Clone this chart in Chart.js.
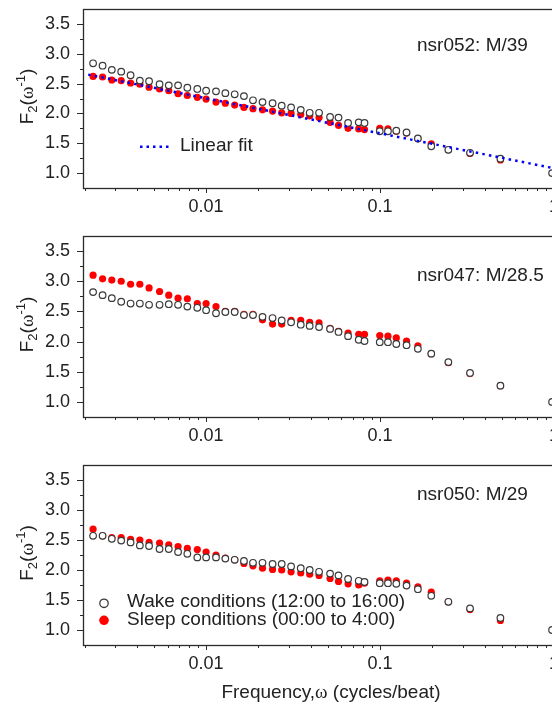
<!DOCTYPE html>
<html>
<head>
<meta charset="utf-8">
<script src="https://cdn.jsdelivr.net/npm/chart.js@4.4.1/dist/chart.umd.min.js"></script>
<style>
  html, body { margin: 0; padding: 0; background: #fff; overflow: hidden; width: 552px; height: 704px; }
  canvas { position: absolute; left: 0; }
</style>
</head>
<body>
<canvas id="c1" width="580" height="228" style="top:0px"></canvas>
<canvas id="c2" width="580" height="230" style="top:227px"></canvas>
<canvas id="c3" width="580" height="248" style="top:456px"></canvas>
<script>
// Frequency grid, cycles/beat (shared by all three recordings)
const frequency = [
  0.00224, 0.00254, 0.00287, 0.00325, 0.00368, 0.00416, 0.0047, 0.0054, 0.0061, 0.0069,
  0.0078, 0.0089, 0.0100, 0.0114, 0.0129, 0.0146, 0.0165, 0.0186, 0.0211, 0.0241,
  0.0272, 0.0308, 0.0350, 0.0394, 0.0446, 0.0516, 0.0577, 0.0655, 0.0754, 0.0814,
  0.0996, 0.111, 0.124, 0.142, 0.165, 0.197, 0.247, 0.329, 0.492, 0.975
];

// nsr052: M/39
const wake052 = [
  2.84, 2.80, 2.73, 2.70, 2.64, 2.55, 2.54, 2.49, 2.47, 2.47,
  2.43, 2.41, 2.38, 2.37, 2.34, 2.32, 2.29, 2.22, 2.19, 2.17,
  2.13, 2.10, 2.06, 2.01, 2.01, 1.94, 1.93, 1.84, 1.85, 1.84,
  1.70, 1.70, 1.71, 1.68, 1.58, 1.45, 1.39, 1.34, 1.24, 1.00
];
const sleep052 = [
  2.62, 2.61, 2.56, 2.55, 2.51, 2.49, 2.44, 2.41, 2.38, 2.33,
  2.30, 2.27, 2.24, 2.19, 2.17, 2.14, 2.10, 2.08, 2.06, 2.04,
  2.01, 2.00, 1.98, 1.96, 1.93, 1.85, 1.80, 1.75, 1.74, 1.73,
  1.75, 1.74, 1.70, 1.67, 1.58, 1.49, 1.39, 1.33, 1.22, null
];
// Linear fit of F2 against log10(frequency)
const fitFrequency = [0.0021, 1.0];
const fit052 = [2.65, 1.08];

// nsr047: M/28.5
const wake047 = [
  2.82, 2.77, 2.72, 2.66, 2.63, 2.63, 2.61, 2.61, 2.62, 2.61,
  2.58, 2.56, 2.52, 2.47, 2.49, 2.49, 2.44, 2.44, 2.41, 2.39,
  2.35, 2.32, 2.28, 2.26, 2.24, 2.21, 2.16, 2.09, 2.03, 2.01,
  1.99, 1.99, 1.96, 1.94, 1.88, 1.80, 1.66, 1.48, 1.27, 1.00
];
const sleep047 = [
  3.10, 3.04, 3.02, 3.00, 2.95, 2.95, 2.89, 2.83, 2.77, 2.72,
  2.71, 2.63, 2.63, 2.58, 2.50, 2.50, 2.45, 2.45, 2.36, 2.29,
  2.29, 2.35, 2.35, 2.32, 2.31, 2.22, 2.17, 2.14, 2.12, 2.12,
  2.10, 2.09, 2.06, 2.01, 1.93, 1.80, 1.65, 1.47, 1.27, null
];

// nsr050: M/29
const wake050 = [
  2.57, 2.57, 2.52, 2.49, 2.46, 2.41, 2.40, 2.35, 2.35, 2.30,
  2.27, 2.21, 2.21, 2.21, 2.19, 2.17, 2.15, 2.12, 2.12, 2.10,
  2.10, 2.06, 2.03, 2.00, 1.97, 1.94, 1.91, 1.85, 1.82, 1.80,
  1.78, 1.78, 1.77, 1.74, 1.68, 1.57, 1.47, 1.36, 1.20, 1.00
];
const sleep050 = [
  2.68, 2.57, 2.54, 2.54, 2.51, 2.50, 2.46, 2.45, 2.42, 2.39,
  2.36, 2.34, 2.30, 2.25, 2.20, 2.17, 2.11, 2.07, 2.03, 2.01,
  2.00, 1.97, 1.95, 1.93, 1.91, 1.86, 1.81, 1.77, 1.75, 1.78,
  1.82, 1.83, 1.82, 1.78, 1.72, 1.63, 1.47, 1.34, 1.16, null
];

// Axis tick labels
const xTickValues = [0.01, 0.1, 1];
const xTickLabels = ['0.01', '0.1', '1'];
const yTickValues = [1.0, 1.5, 2.0, 2.5, 3.0, 3.5];

const legendLabels = ['Wake conditions (12:00 to 16:00)', 'Sleep conditions (00:00 to 4:00)'];
const fitLabel = 'Linear fit';

const SANS = "'Liberation Sans', Arial, sans-serif";
const SERIF = "'Liberation Serif', 'DejaVu Serif', serif";
const INK = '#222';
const WAKE_COLOR = '#3a3a3a';
const SLEEP_COLOR = '#ff0000';
const FIT_COLOR = '#0000ff';

const panels = [
  { id: 'c1', title: 'nsr052: M/39',   titleDy: 37, wake: wake052, sleep: sleep052, fit: fit052, legend: 'fit',    axisH: 40, xTitle: false },
  { id: 'c2', title: 'nsr047: M/28.5', titleDy: 40, wake: wake047, sleep: sleep047, fit: null,   legend: null,     axisH: 40, xTitle: false },
  { id: 'c3', title: 'nsr050: M/29',   titleDy: 30, wake: wake050, sleep: sleep050, fit: null,   legend: 'points', axisH: 59, xTitle: true }
];

function toPoints(xs, ys) {
  const pts = [];
  xs.forEach((x, i) => { if (ys[i] !== null && ys[i] !== undefined) pts.push({ x: x, y: ys[i] }); });
  return pts;
}

function drawParts(ctx, parts, x0, y0, align) {
  let total = 0;
  parts.forEach(p => { ctx.font = p.f; p.w = ctx.measureText(p.t).width; total += p.w; });
  let x = align === 'center' ? x0 - total / 2 : x0;
  parts.forEach(p => {
    ctx.font = p.f;
    ctx.fillText(p.t, x, y0 + (p.dy || 0));
    x += p.w;
  });
}

const decorations = {
  id: 'decorations',
  afterDraw(chart, args, opts) {
    const ctx = chart.ctx;
    const a = chart.chartArea;
    const xs = chart.scales.x, ys = chart.scales.y;
    ctx.save();

    // frame
    ctx.strokeStyle = '#2a2a2a';
    ctx.lineWidth = 1.3;
    ctx.strokeRect(Math.round(a.left) + 0.5, Math.round(a.top) + 0.5,
                   Math.round(a.right - a.left), Math.round(a.bottom - a.top));

    // tick marks: decades long, intermediate short
    ctx.lineWidth = 1;
    ctx.beginPath();
    for (let e = -3; e <= 0; e++) {
      for (let k = 1; k <= 9; k++) {
        const v = k * Math.pow(10, e);
        if (v < xs.min || v > xs.max) continue;
        const px = Math.round(xs.getPixelForValue(v)) + 0.5;
        const len = k === 1 ? 5 : 3;
        ctx.moveTo(px, a.bottom);
        ctx.lineTo(px, a.bottom + len);
      }
    }
    for (let q = 4; q <= 14; q++) {
      const v = q / 4;
      const py = Math.round(ys.getPixelForValue(v)) + 0.5;
      const len = (q % 2 === 0) ? 6 : 3;
      ctx.moveTo(a.left, py);
      ctx.lineTo(a.left - len, py);
    }
    ctx.stroke();

    ctx.fillStyle = INK;
    ctx.textBaseline = 'middle';
    ctx.textAlign = 'left';

    // recording label
    ctx.font = `19px ${SANS}`;
    ctx.fillText(opts.title, 417, a.top + opts.titleDy);

    // y-axis title F2(ω^-1)
    ctx.save();
    ctx.translate(33, (a.top + a.bottom) / 2 - 2);
    ctx.rotate(-Math.PI / 2);
    ctx.textBaseline = 'alphabetic';
    drawParts(ctx, [
      { t: 'F', f: `19px ${SANS}` },
      { t: '2', f: `13px ${SANS}`, dy: 4 },
      { t: '(', f: `19px ${SANS}` },
      { t: 'ω', f: `19px ${SERIF}` },
      { t: '-1', f: `13px ${SANS}`, dy: -8 },
      { t: ')', f: `19px ${SANS}` }
    ], 0, 0, 'center');
    ctx.restore();

    // in-panel legends
    if (opts.legend === 'fit') {
      const ly = a.top + 137.7;
      ctx.save();
      ctx.strokeStyle = FIT_COLOR;
      ctx.lineWidth = 2.5;
      ctx.setLineDash([2.5, 4]);
      ctx.beginPath();
      ctx.moveTo(140, ly);
      ctx.lineTo(172, ly);
      ctx.stroke();
      ctx.restore();
      ctx.font = `19px ${SANS}`;
      ctx.fillText(fitLabel, 180, ly - 1);
    }
    if (opts.legend === 'points') {
      const y1 = a.top + 138.3, y2 = a.top + 155.3;
      ctx.save();
      ctx.lineWidth = 1.3;
      ctx.strokeStyle = WAKE_COLOR;
      ctx.fillStyle = '#fff';
      ctx.beginPath(); ctx.arc(104, y1, 4.2, 0, Math.PI * 2); ctx.fill(); ctx.stroke();
      ctx.fillStyle = SLEEP_COLOR;
      ctx.beginPath(); ctx.arc(104, y2, 4.8, 0, Math.PI * 2); ctx.fill();
      ctx.restore();
      ctx.font = `19px ${SANS}`;
      ctx.fillText(legendLabels[0], 127, y1 - 1.5);
      ctx.fillText(legendLabels[1], 127, y2 - 0.5);
    }

    // x-axis title
    if (opts.xTitle) {
      ctx.textBaseline = 'middle';
      drawParts(ctx, [
        { t: 'Frequency,', f: `19px ${SANS}` },
        { t: 'ω', f: `19px ${SERIF}` },
        { t: ' (cycles/beat)', f: `19px ${SANS}` }
      ], 331, a.bottom + 48, 'center');
    }
    ctx.restore();
  }
};

panels.forEach(p => {
  const datasets = [
    {
      label: legendLabels[0],
      data: toPoints(frequency, p.wake),
      pointRadius: 3.3,
      pointBorderWidth: 1.2,
      pointBorderColor: WAKE_COLOR,
      pointBackgroundColor: '#ffffff',
      showLine: false,
      order: 1
    },
    {
      label: legendLabels[1],
      data: toPoints(frequency, p.sleep),
      pointRadius: 3.6,
      pointBorderWidth: 0,
      pointBorderColor: SLEEP_COLOR,
      pointBackgroundColor: SLEEP_COLOR,
      showLine: false,
      order: 2
    }
  ];
  if (p.fit) {
    datasets.push({
      label: fitLabel,
      data: toPoints(fitFrequency, p.fit),
      showLine: true,
      pointRadius: 0,
      borderColor: FIT_COLOR,
      borderWidth: 2.5,
      borderDash: [2.5, 4.2],
      order: 0
    });
  }

  new Chart(document.getElementById(p.id), {
    type: 'scatter',
    data: { datasets },
    options: {
      responsive: false,
      animation: false,
      devicePixelRatio: 1,
      layout: { padding: { top: 9, right: 26, left: 0, bottom: 0 } },
      plugins: {
        legend: { display: false },
        tooltip: { enabled: false },
        decorations: p
      },
      scales: {
        x: {
          type: 'logarithmic',
          min: 0.00196,
          max: 1,
          grid: { display: false, drawTicks: false },
          border: { display: false },
          ticks: {
            autoSkip: false,
            maxRotation: 0,
            padding: 8,
            color: INK,
            font: { family: SANS, size: 18 },
            callback: (v) => {
              const i = xTickValues.findIndex(t => Math.abs(Math.log10(v) - Math.log10(t)) < 1e-6);
              return i >= 0 ? xTickLabels[i] : '';
            }
          },
          afterFit: (s) => { s.height = p.axisH; s.paddingLeft = 0; s.paddingRight = 0; }
        },
        y: {
          type: 'linear',
          min: 0.75,
          max: 3.75,
          grid: { display: false, drawTicks: false },
          border: { display: false },
          ticks: {
            autoSkip: false,
            stepSize: 0.25,
            padding: 13,
            color: INK,
            font: { family: SANS, size: 18 },
            callback: (v) => {
              const hit = yTickValues.find(t => Math.abs(t - v) < 1e-6);
              return hit !== undefined ? hit.toFixed(1) : '';
            }
          },
          afterFit: (s) => { s.width = 83; s.paddingTop = 0; s.paddingBottom = 0; }
        }
      }
    },
    plugins: [decorations]
  });
});
</script>
</body>
</html>
